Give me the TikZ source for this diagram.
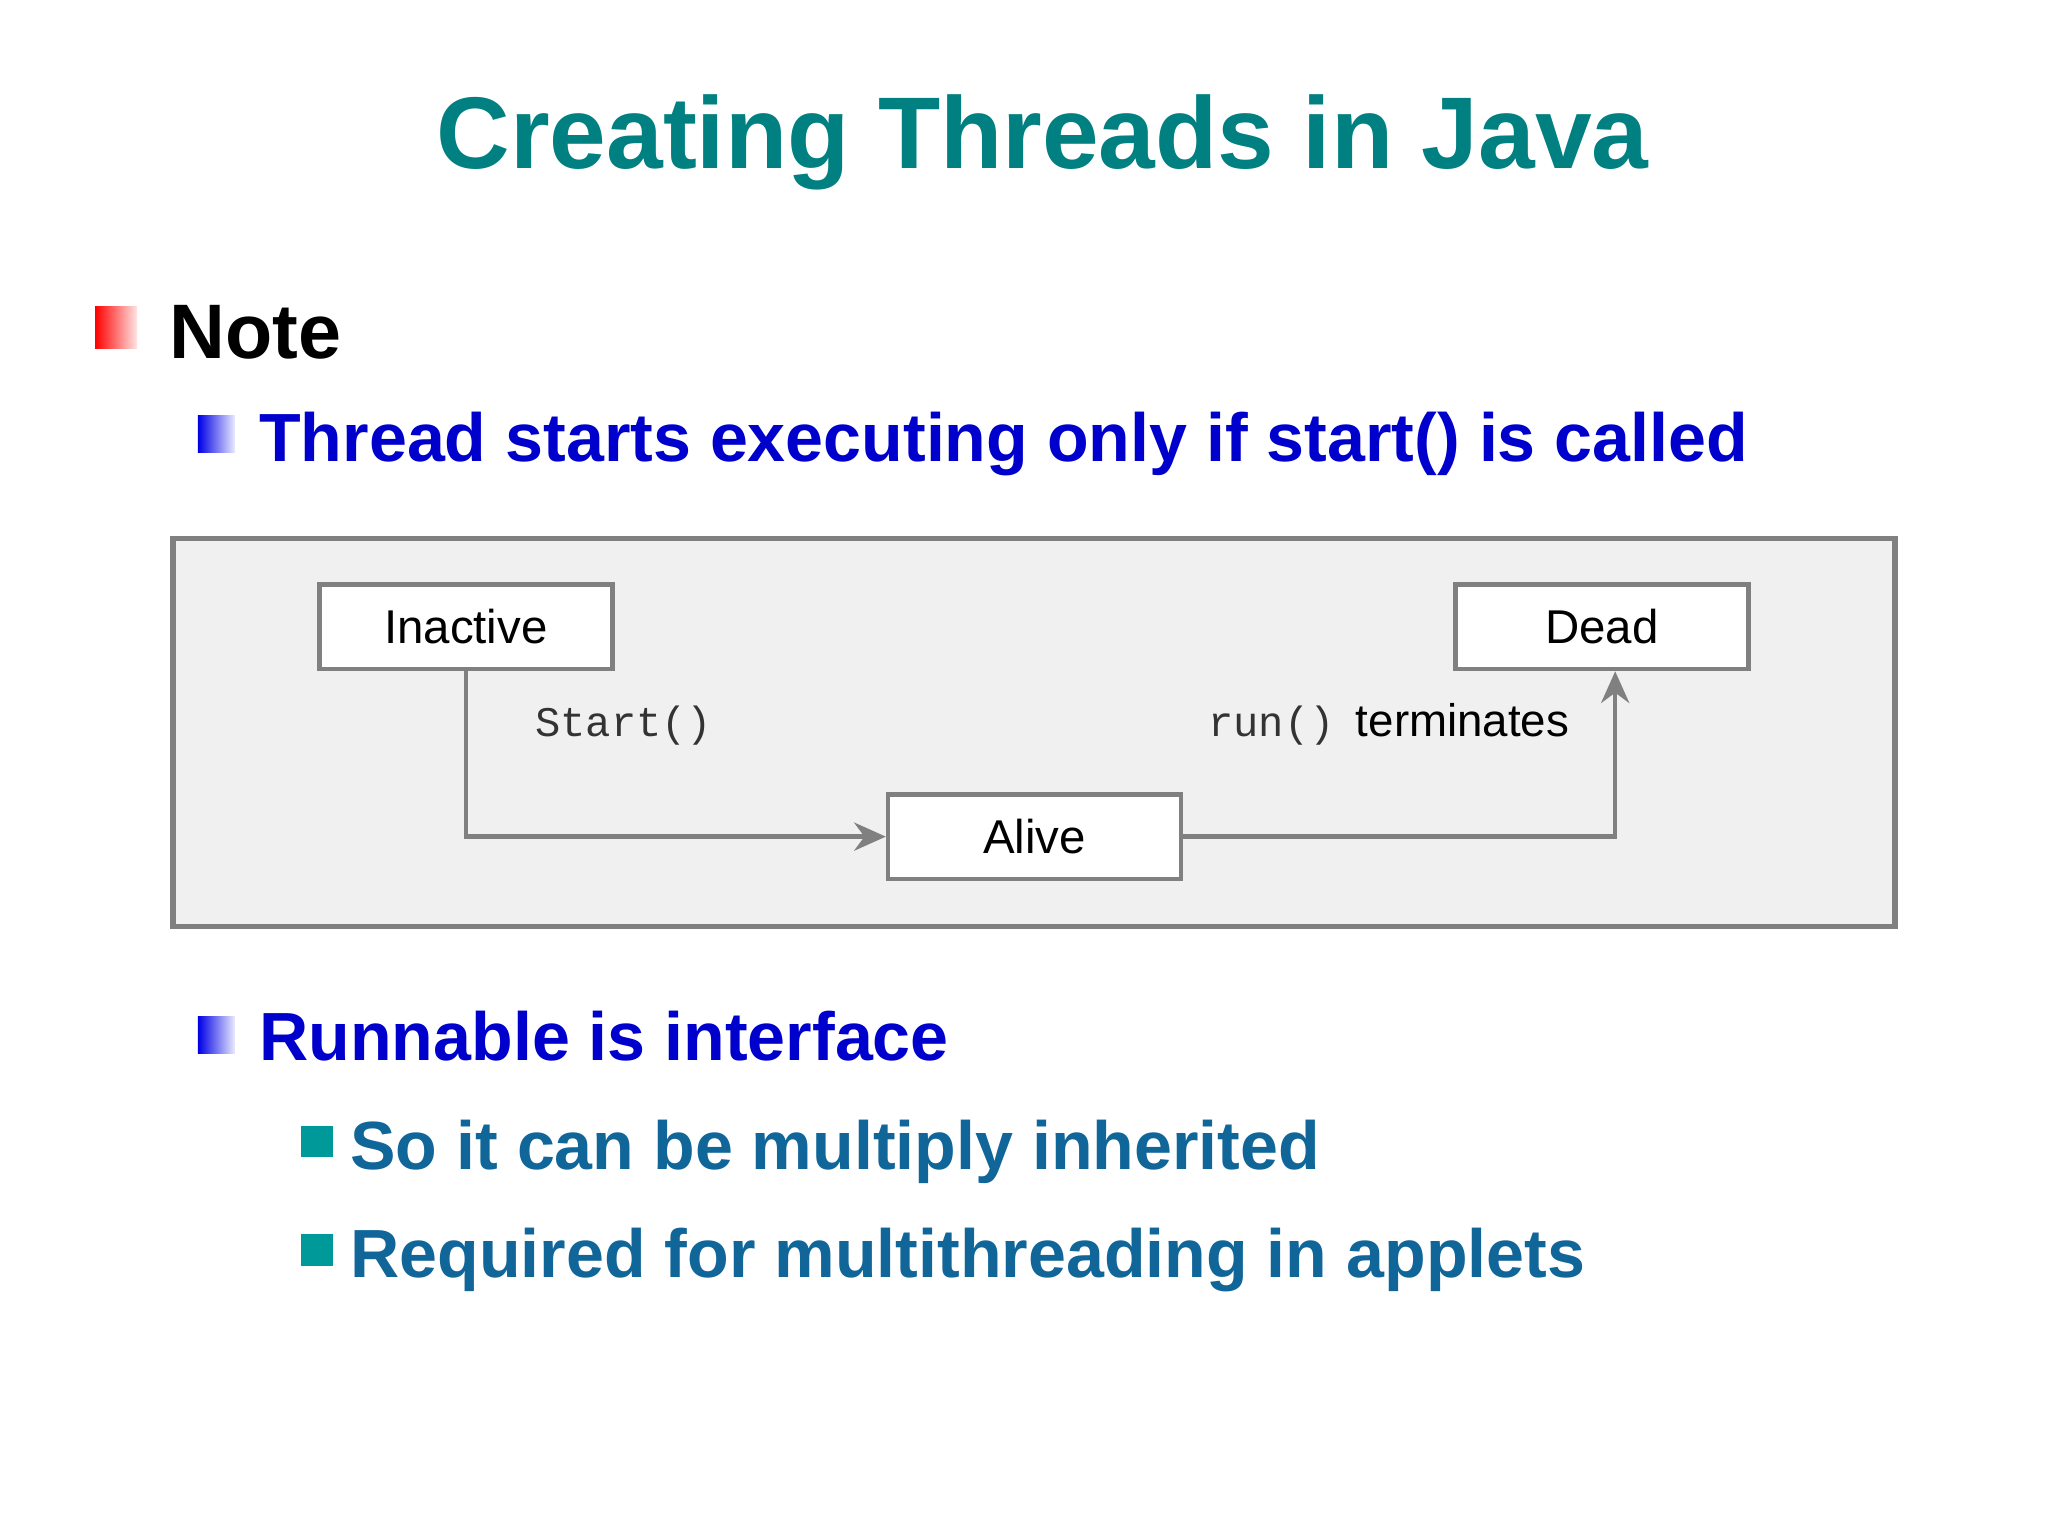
\documentclass[tikz,border=0pt]{standalone}
\usepackage{fontspec}
\setmainfont{Liberation Sans}
\setmonofont{Liberation Mono}
\usetikzlibrary{arrows.meta}
\definecolor{titleteal}{RGB}{0,128,128}
\definecolor{blueT}{RGB}{0,0,204}
\definecolor{tealT}{RGB}{17,102,153}
\definecolor{sqteal}{RGB}{0,153,153}
\definecolor{lgray}{RGB}{128,128,128}
\tikzset{
 statebox/.style={draw=lgray, line width=1.3pt, fill=white, minimum width=222*0.0132cm, minimum height=64*0.0132cm, font=\fontsize{13.5}{16}\selectfont, inner sep=0pt},
 conn/.style={draw=lgray, line width=1.3pt, -{Stealth[length=9pt,width=8pt]}},
 lvl2/.style={anchor=base west, text=blueT, font=\bfseries\fontsize{19.4}{24}\selectfont, inner sep=0pt},
 lvl3/.style={anchor=base west, text=tealT, font=\bfseries\fontsize{19.4}{24}\selectfont, inner sep=0pt}
}
\begin{document}
\begin{tikzpicture}[x=0.0132cm,y=-0.0132cm]
\useasboundingbox[fill=white] (0,0) rectangle (1552,1164);
\node[text=titleteal, font=\bfseries\fontsize{29}{34}\selectfont, anchor=base] (title) at (790,128) {Creating Threads in Java};
\shade[left color=red, right color=red!10] (72,232) rectangle (104,264);
\node[anchor=base west, font=\bfseries\fontsize{22}{26}\selectfont, inner sep=0pt] (note) at (128,272) {Note};
\shade[left color=blue!90!black, right color=blue!8] (150,315) rectangle (178,343);
\node[lvl2] (t1) at (196,350) {Thread starts executing only if start() is called};
\draw[draw=lgray, line width=1.5pt, fill=black!6] (131,408) rectangle (1436,702);
\node[statebox] (inactive) at (353,475) {Inactive};
\node[statebox] (dead) at (1214,475) {Dead};
\node[statebox] (alive) at (784,634) {Alive};
\draw[conn] (inactive.south) |- (alive.west);
\draw[conn] (alive.east) -| (dead.south -| 1224,0);
\node[anchor=base west, text=black!80, font=\ttfamily\fontsize{12}{14}\selectfont, inner sep=0pt] (lstart) at (405,558) {Start()};
\node[anchor=base west, text=black!80, font=\ttfamily\fontsize{12}{14}\selectfont, inner sep=0pt] (lrun) at (915,558) {run()};
\node[anchor=base west, font=\fontsize{13}{16}\selectfont, inner sep=0pt] (lterm) at (1027,558) {terminates};
\shade[left color=blue!90!black, right color=blue!8] (150,770) rectangle (178,798);
\node[lvl2] (t2) at (196,804) {Runnable is interface};
\fill[sqteal] (228,853) rectangle (252,877);
\node[lvl3] (t3) at (265,886) {So it can be multiply inherited};
\fill[sqteal] (228,935) rectangle (252,959);
\node[lvl3] (t4) at (265,968) {Required for multithreading in applets};
\end{tikzpicture}
\end{document}
